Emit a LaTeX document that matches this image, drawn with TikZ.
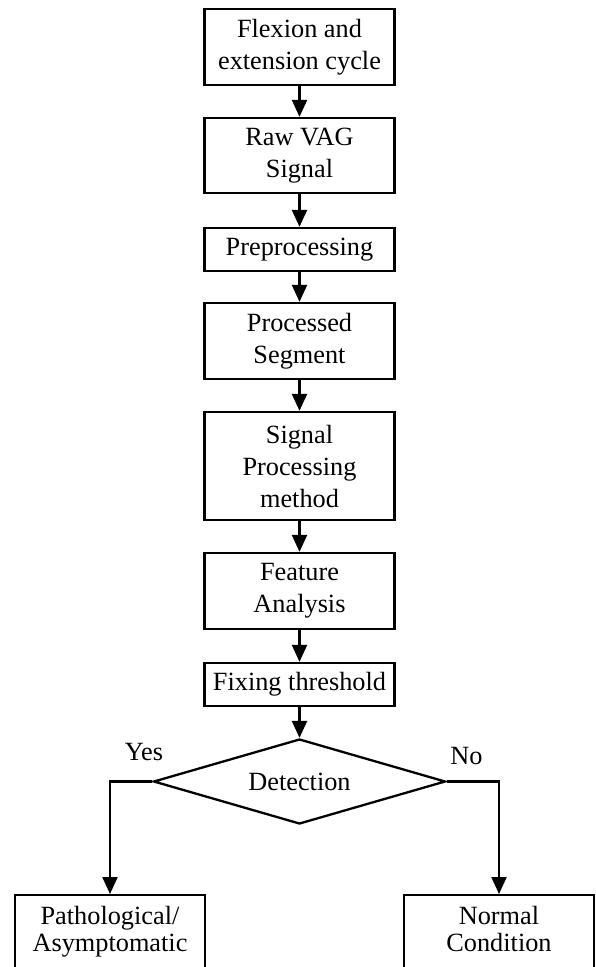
\documentclass[tikz,border=0pt]{standalone}
\usepackage{fontspec}
\setmainfont{Liberation Serif}
\usetikzlibrary{arrows.meta,shapes.geometric}

\tikzset{
  stepbox/.style={draw, line width=2.3pt, minimum width=190pt, inner sep=0pt,
    align=center, font=\fontsize{26.3}{32}\selectfont},
  endbox/.style={stepbox, anchor=north, minimum height=75pt,
    font=\fontsize{26.3}{27}\selectfont},
  decision/.style={draw, diamond, line width=2.3pt, shape aspect=3.4,
    minimum width=292pt, minimum height=85pt, inner sep=0pt,
    font=\fontsize{26.3}{32}\selectfont},
  flow/.style={line width=2.3pt, -{Triangle[width=15pt,length=17pt]}},
  branch/.style={font=\fontsize{26.3}{32}\selectfont, anchor=base}
}

\begin{document}
\begin{tikzpicture}[x=1pt, y=-1pt]
  \useasboundingbox (0,0) rectangle (595,967);
  \clip (0,0) rectangle (595,967);

  % main chain of processing steps
  \node[stepbox, minimum height=76pt]  (cycle)  at (299.5,47)    {Flexion and\\extension cycle};
  \node[stepbox, minimum height=75pt]  (raw)    at (299.5,155.5) {Raw VAG\\Signal};
  \node[stepbox, minimum height=43pt]  (pre)    at (299.5,249.5) {Preprocessing};
  \node[stepbox, minimum height=76pt]  (seg)    at (299.5,341)   {Processed\\Segment};
  \node[stepbox, minimum height=108pt] (method) at (299.5,466)   {Signal\\Processing\\method};
  \node[stepbox, minimum height=76pt]  (feat)   at (299.5,591)   {Feature\\Analysis};
  \node[stepbox, minimum height=43pt]  (thr)    at (299.5,684.5) {Fixing threshold};

  % decision and its two outcomes
  \node[decision] (det) at (299.5,781.5) {Detection};
  \node[endbox] (patho)  at (110,894) {\strut Pathological/\\\strut Asymptomatic};
  \node[endbox] (normal) at (499,894) {\strut Normal\\\strut Condition};

  \node[branch] (yes) at (144,760) {Yes};
  \node[branch] (no)  at (466.5,764) {No};

  % connectors
  \draw[flow] (cycle)  -- (raw);
  \draw[flow] (raw)    -- (pre);
  \draw[flow] (pre)    -- (seg);
  \draw[flow] (seg)    -- (method);
  \draw[flow] (method) -- (feat);
  \draw[flow] (feat)   -- (thr);
  \draw[flow] (thr)    -- (det);
  \draw[flow] (det.west) -| (patho.north);
  \draw[flow] (det.east) -| (normal.north);
\end{tikzpicture}
\end{document}
